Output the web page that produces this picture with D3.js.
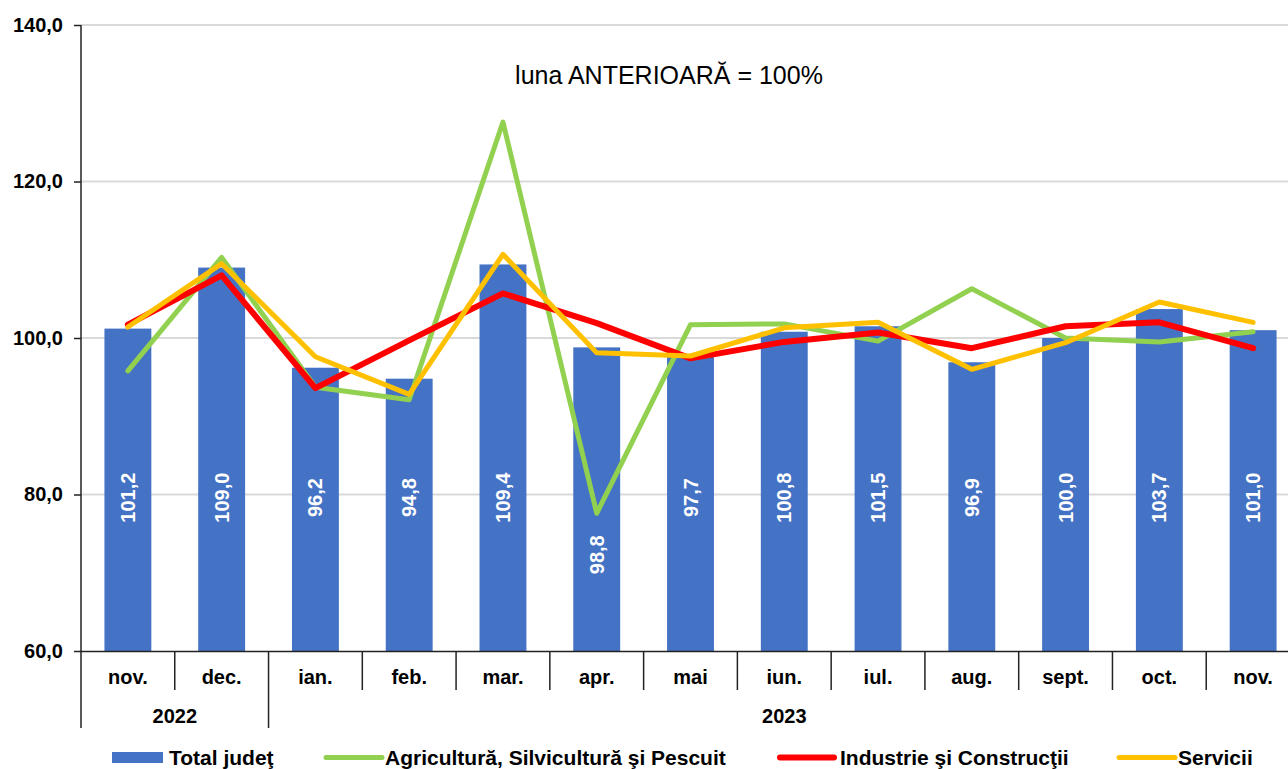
<!DOCTYPE html>
<meta charset="utf-8">
<script src="https://d3js.org/d3.v7.min.js"></script>
<style>
  body { margin: 0; background: #fff; }
  text { font-family: "Liberation Sans", Arial, sans-serif; }
</style>
<div id="chart"></div>
<script>
    // data
    var months = ["nov.", "dec.", "ian.", "feb.", "mar.", "apr.", "mai", "iun.", "iul.", "aug.", "sept.", "oct.", "nov."];
    var years = [{ label: "2022", from: 0, to: 1 }, { label: "2023", from: 2, to: 12 }];
    var total = [101.2, 109.0, 96.2, 94.8, 109.4, 98.8, 97.7, 100.8, 101.5, 96.9, 100.0, 103.7, 101.0];
    var agri = [95.8, 110.3, 93.7, 92.1, 127.6, 77.6, 101.7, 101.8, 99.6, 106.3, 100.0, 99.5, 100.8];
    var indu = [101.7, 108.0, 93.6, 99.7, 105.7, 101.9, 97.4, 99.5, 100.7, 98.7, 101.5, 102.0, 98.7];
    var serv = [101.4, 109.5, 97.6, 92.8, 110.7, 98.1, 97.7, 101.3, 102.0, 96.0, 99.4, 104.6, 102.0];
    var yTicks = [60, 80, 100, 120, 140];

    var W = 1288, H = 769;
    var svg = d3.select("#chart").append("svg")
        .attr("width", W).attr("height", H);

    // the plot runs a bit past the right edge, like the original
    var x = d3.scaleBand().domain(d3.range(months.length)).range([81, 1300]).paddingInner(0).paddingOuter(0);
    var y = d3.scaleLinear().domain([60, 140]).range([651, 25]);
    var fmt = function (v) { return v.toFixed(1).replace(".", ","); };

    // gridlines
    svg.append("g").selectAll("line").data(yTicks.slice(1)).enter().append("line")
        .attr("x1", 81).attr("x2", W)
        .attr("y1", d => y(d)).attr("y2", d => y(d))
        .attr("stroke", "#d9d9d9").attr("stroke-width", 2);

    // bars
    var bw = x.bandwidth() * 0.5;
    svg.append("g").selectAll("rect").data(total).enter().append("rect")
        .attr("x", (d, i) => x(i) + x.bandwidth() / 2 - bw / 2)
        .attr("y", d => y(d))
        .attr("width", bw)
        .attr("height", d => y(60) - y(d))
        .attr("fill", "#4472c4");

    // bar labels (rotated, white)
    svg.append("g").selectAll("text").data(total).enter().append("text")
        .attr("transform", (d, i) => {
            var cy = i === 5 ? y(72.3) : y(79.6);
            return "translate(" + (x(i) + x.bandwidth() / 2 + 7) + "," + cy + ") rotate(-90)";
        })
        .attr("text-anchor", "middle")
        .attr("fill", "#fff").attr("font-weight", "bold").attr("font-size", 20)
        .text(d => fmt(d));

    // lines
    var line = d3.line().x((d, i) => x(i) + x.bandwidth() / 2).y(d => y(d));
    var series = [
        { name: "Agricultură, Silvicultură şi Pescuit", values: agri, color: "#92d050", w: 5 },
        { name: "Industrie şi Construcţii", values: indu, color: "#ff0000", w: 6 },
        { name: "Servicii", values: serv, color: "#ffc000", w: 5 }
    ];
    svg.append("g").selectAll("path").data(series).enter().append("path")
        .attr("d", d => line(d.values))
        .attr("fill", "none")
        .attr("stroke", d => d.color)
        .attr("stroke-width", d => d.w)
        .attr("stroke-linecap", "round")
        .attr("stroke-linejoin", "round");

    // y axis
    var yAxis = svg.append("g").attr("transform", "translate(81,0)")
        .call(d3.axisLeft(y).tickValues(yTicks).tickSize(7).tickPadding(11).tickFormat(fmt));
    yAxis.select(".domain").attr("stroke", "#222").attr("stroke-width", 1.5).attr("d", "M0,25V651");
    yAxis.selectAll(".tick line").attr("stroke", "#222").attr("stroke-width", 1.5);
    yAxis.selectAll("text").attr("font-size", 20).attr("font-weight", "bold").attr("fill", "#000")
        .attr("font-family", "Liberation Sans, Arial, sans-serif");

    // x axis line
    svg.append("line").attr("x1", 81).attr("x2", W).attr("y1", 651.5).attr("y2", 651.5)
        .attr("stroke", "#222").attr("stroke-width", 1.5);

    // month separators and labels
    var xa = svg.append("g");
    xa.selectAll("line.sep").data(d3.range(months.length + 1)).enter().append("line")
        .attr("x1", i => 81 + i * x.step()).attr("x2", i => 81 + i * x.step())
        .attr("y1", 651).attr("y2", i => (i === 0 || i === 2) ? 728 : 690)
        .attr("stroke", "#222").attr("stroke-width", 1.5);
    xa.selectAll("text").data(months).enter().append("text")
        .attr("x", (d, i) => x(i) + x.bandwidth() / 2)
        .attr("y", 684)
        .attr("text-anchor", "middle")
        .attr("font-size", 20).attr("font-weight", "bold")
        .text(d => d);

    // year labels
    svg.append("g").selectAll("text").data(years).enter().append("text")
        .attr("x", d => (x(d.from) + x(d.to) + x.bandwidth()) / 2)
        .attr("y", 723)
        .attr("text-anchor", "middle")
        .attr("font-size", 20).attr("font-weight", "bold")
        .text(d => d.label);

    // title
    svg.append("text")
        .attr("x", 669).attr("y", 84)
        .attr("text-anchor", "middle")
        .attr("font-family", "Lato, sans-serif")
        .attr("font-size", 25)
        .text("luna ANTERIOARĂ = 100%");

    // legend
    var lg = svg.append("g");
    lg.append("rect").attr("x", 112).attr("y", 752).attr("width", 51).attr("height", 11).attr("fill", "#4472c4");
    lg.append("text").attr("x", 169).attr("y", 765).attr("font-size", 21).attr("font-weight", "bold").text("Total judeţ");
    var legendPos = [{ x1: 326, x2: 382, tx: 385 }, { x1: 780, x2: 834, tx: 840 }, { x1: 1119, x2: 1175, tx: 1178 }];
    series.forEach(function (s, i) {
        var p = legendPos[i];
        lg.append("line").attr("x1", p.x1).attr("x2", p.x2).attr("y1", 757.5).attr("y2", 757.5)
            .attr("stroke", s.color).attr("stroke-width", s.w).attr("stroke-linecap", "round");
        lg.append("text").attr("x", p.tx).attr("y", 765).attr("font-size", 21).attr("font-weight", "bold").text(s.name);
    });
</script>
